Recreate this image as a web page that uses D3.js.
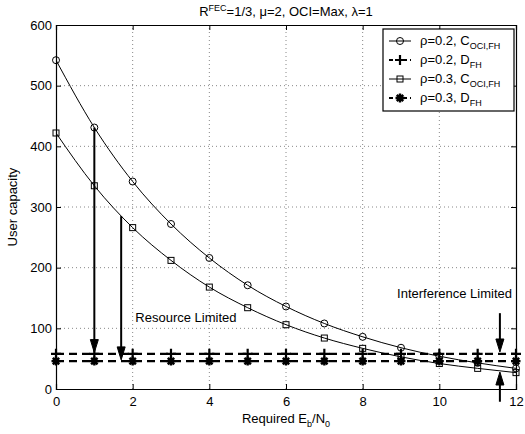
<!DOCTYPE html>
<html>
<head>
<meta charset="utf-8">
<script src="https://cdn.jsdelivr.net/npm/d3@7"></script>
<style>
  body { margin: 0; background: #fff; }
  text { font-family: "Liberation Sans", Arial, sans-serif; fill: #000; }
</style>
</head>
<body>
<script>
// values
const ebno = [0, 1, 2, 3, 4, 5, 6, 7, 8, 9, 10, 11, 12]
const cRho02 = [542, 431, 342, 272, 216, 171, 136, 108, 86, 68, 54, 43, 34]
const cRho03 = [422, 335, 266, 212, 168, 134, 106, 84, 67, 53, 42, 34, 27]
const dRho02 = [58, 58, 58, 58, 58, 58, 58, 58, 58, 58, 58, 58, 58]
const dRho03 = [46, 46, 46, 46, 46, 46, 46, 46, 46, 46, 46, 46, 46]
const xTicks = [0, 2, 4, 6, 8, 10, 12]
const yTicks = [0, 100, 200, 300, 400, 500, 600]

// arrows: [x, from, to]
const arrows = [
    [1, 431, 60],
    [1.7, 285, 48],
    [11.58, 125, 61],
    [11.58, -21, 28]
]

const m = { width: 525, height: 434, left: 56, right: 9, top: 25, bottom: 45 }

const svg = d3.select('body').append('svg')
    .attr('width', m.width)
    .attr('height', m.height)

const x = d3.scaleLinear().domain([0, 12]).range([m.left, m.width - m.right])
const y = d3.scaleLinear().domain([0, 600]).range([m.height - m.bottom, m.top])

svg.append('defs').append('clipPath').attr('id', 'clip')
    .append('rect')
    .attr('x', x(0)).attr('y', y(600))
    .attr('width', x(12) - x(0)).attr('height', y(0) - y(600))

// grid
const grid = svg.append('g')
grid.selectAll('.gx').data(xTicks.slice(1, -1)).enter().append('line')
    .attr('x1', d => x(d)).attr('x2', d => x(d))
    .attr('y1', y(0)).attr('y2', y(600))
    .attr('stroke', '#888').attr('stroke-dasharray', '1,3')
grid.selectAll('.gy').data(yTicks.slice(1, -1)).enter().append('line')
    .attr('y1', d => y(d)).attr('y2', d => y(d))
    .attr('x1', x(0)).attr('x2', x(12))
    .attr('stroke', '#888').attr('stroke-dasharray', '1,3')

// axes
svg.append('g')
    .attr('transform', 'translate(0,' + y(0) + ')')
    .call(d3.axisBottom(x).tickValues(xTicks).tickSize(-5).tickPadding(8))
svg.append('g')
    .attr('transform', 'translate(' + x(0) + ',0)')
    .call(d3.axisLeft(y).tickValues(yTicks).tickSize(-5).tickPadding(4))
svg.append('g')
    .attr('transform', 'translate(0,' + y(600) + ')')
    .call(d3.axisTop(x).tickValues(xTicks).tickSize(-5).tickFormat(''))
svg.append('g')
    .attr('transform', 'translate(' + x(12) + ',0)')
    .call(d3.axisRight(y).tickValues(yTicks).tickSize(-5).tickFormat(''))
svg.selectAll('.domain').attr('stroke', '#000').attr('stroke-width', 1.2)
svg.selectAll('.tick line').attr('stroke', '#000')
svg.selectAll('.tick text').style('font-size', '13px')
    .style('font-family', '"Liberation Sans", Arial, sans-serif')

const plot = svg.append('g').attr('clip-path', 'url(#clip)')

const line = d3.line()
    .x((d, i) => x(ebno[i]))
    .y(d => y(d))

const curve = d3.line()
    .x((d, i) => x(ebno[i]))
    .y(d => y(d))
    .curve(d3.curveMonotoneX)

// C curves
plot.append('path').datum(cRho02).attr('d', curve)
    .attr('fill', 'none').attr('stroke', '#000').attr('stroke-width', 1)
plot.append('path').datum(cRho03).attr('d', curve)
    .attr('fill', 'none').attr('stroke', '#000').attr('stroke-width', 1)

// D lines
plot.append('path').datum(dRho02).attr('d', line)
    .attr('fill', 'none').attr('stroke', '#000').attr('stroke-width', 2.2)
    .attr('stroke-dasharray', '8,5')
plot.append('path').datum(dRho03).attr('d', line)
    .attr('fill', 'none').attr('stroke', '#000').attr('stroke-width', 2.2)
    .attr('stroke-dasharray', '8,5')

function circleMark(g, cx, cy) {
    g.append('circle').attr('cx', cx).attr('cy', cy).attr('r', 3.5)
        .attr('fill', 'none').attr('stroke', '#000').attr('stroke-width', 1)
}
function squareMark(g, cx, cy) {
    g.append('rect').attr('x', cx - 3).attr('y', cy - 3).attr('width', 6).attr('height', 6)
        .attr('fill', 'none').attr('stroke', '#000').attr('stroke-width', 1)
}
function plusMark(g, cx, cy) {
    g.append('path').attr('d', 'M' + (cx - 5) + ',' + cy + 'H' + (cx + 5) + 'M' + cx + ',' + (cy - 5) + 'V' + (cy + 5))
        .attr('stroke', '#000').attr('stroke-width', 2.2)
}
function starMark(g, cx, cy) {
    g.append('path').attr('d', 'M' + (cx - 4.5) + ',' + cy + 'H' + (cx + 4.5) + 'M' + cx + ',' + (cy - 4.5) + 'V' + (cy + 4.5)
        + 'M' + (cx - 3.2) + ',' + (cy - 3.2) + 'L' + (cx + 3.2) + ',' + (cy + 3.2)
        + 'M' + (cx - 3.2) + ',' + (cy + 3.2) + 'L' + (cx + 3.2) + ',' + (cy - 3.2))
        .attr('stroke', '#000').attr('stroke-width', 2.4)
    g.append('circle').attr('cx', cx).attr('cy', cy).attr('r', 2.5).attr('fill', '#000')
}

const marks = svg.append('g')
ebno.forEach(function (e, i) {
    circleMark(marks, x(e), y(cRho02[i]))
    squareMark(marks, x(e), y(cRho03[i]))
    plusMark(marks, x(e), y(dRho02[i]))
    starMark(marks, x(e), y(dRho03[i]))
})

// arrows
const arr = svg.append('g')
arrows.forEach(function (a) {
    const ax = x(a[0]), y1 = y(a[1]), y2 = y(a[2])
    const dir = y2 > y1 ? 1 : -1
    arr.append('line').attr('x1', ax).attr('x2', ax)
        .attr('y1', y1).attr('y2', y2 - dir * 10)
        .attr('stroke', '#000').attr('stroke-width', 2)
    arr.append('path')
        .attr('d', 'M' + (ax - 4) + ',' + (y2 - dir * 13) + 'L' + (ax + 4) + ',' + (y2 - dir * 13) + 'L' + ax + ',' + y2 + 'Z')
        .attr('fill', '#000').attr('stroke', '#000').attr('stroke-width', 1)
})

// annotations
svg.append('text').attr('x', x(2.07)).attr('y', y(110))
    .style('font-size', '13px').text('Resource Limited')
svg.append('text').attr('x', x(12) - 4).attr('y', y(150)).attr('text-anchor', 'end')
    .style('font-size', '13px').text('Interference Limited')

// title
const title = svg.append('text').attr('x', (x(0) + x(12)) / 2).attr('y', 16)
    .attr('text-anchor', 'middle').style('font-size', '13px')
title.append('tspan').text('R')
title.append('tspan').attr('dy', -5).style('font-size', '9px').text('FEC')
title.append('tspan').attr('dy', 5).text('=1/3, \u03bc=2, OCI=Max, \u03bb=1')

// axis labels
const xl = svg.append('text').attr('x', (x(0) + x(12)) / 2).attr('y', 423)
    .attr('text-anchor', 'middle').style('font-size', '13px')
xl.append('tspan').text('Required E')
xl.append('tspan').attr('dy', 4).style('font-size', '9px').text('b')
xl.append('tspan').attr('dy', -4).text('/N')
xl.append('tspan').attr('dy', 4).style('font-size', '9px').text('0')

svg.append('text')
    .attr('transform', 'translate(17,' + (y(300)) + ') rotate(-90)')
    .attr('text-anchor', 'middle').style('font-size', '13px')
    .text('User capacity')

// legend
const lg = svg.append('g')
lg.append('rect').attr('x', 383).attr('y', 29).attr('width', 131).attr('height', 82)
    .attr('fill', '#fff').attr('stroke', '#000').attr('stroke-width', 1.2)
const legendItems = [
    { sub: 'OCI,FH', name: 'C', rho: '0.2', mark: circleMark, w: 1, dash: null },
    { sub: 'FH', name: 'D', rho: '0.2', mark: plusMark, w: 2.2, dash: '4,3' },
    { sub: 'OCI,FH', name: 'C', rho: '0.3', mark: squareMark, w: 1, dash: null },
    { sub: 'FH', name: 'D', rho: '0.3', mark: starMark, w: 2.2, dash: '4,3' }
]
const legendY = [41, 60, 79, 98]
legendItems.forEach(function (d, i) {
    const ly = legendY[i]
    lg.append('line').attr('x1', 389).attr('x2', 411).attr('y1', ly).attr('y2', ly)
        .attr('stroke', '#000').attr('stroke-width', d.w)
        .attr('stroke-dasharray', d.dash)
    d.mark(lg, 400, ly)
    const t = lg.append('text').attr('x', 420).attr('y', ly + 4).style('font-size', '13px')
    t.append('tspan').text('\u03c1=' + d.rho + ', ' + d.name)
    t.append('tspan').attr('dy', 4).style('font-size', '9px').text(d.sub)
})
</script>
</body>
</html>
